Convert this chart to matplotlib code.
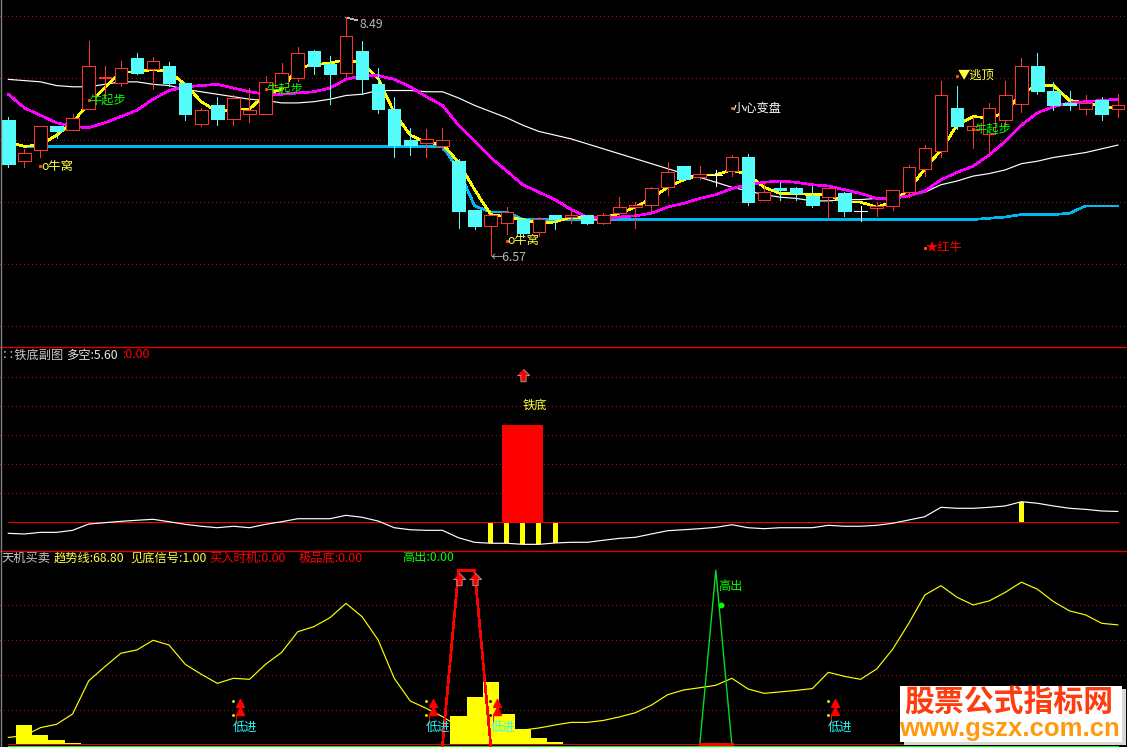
import matplotlib
matplotlib.use("Agg")
import matplotlib.pyplot as plt
from matplotlib.lines import Line2D
from matplotlib.patches import Rectangle

plt.rcParams['font.family'] = ['Noto Sans CJK SC', 'DejaVu Sans']
plt.rcParams['lines.antialiased'] = False
plt.rcParams['patch.antialiased'] = False

# bougies
opens = [7.66, 7.33, 7.42, 7.61, 7.58, 7.75, 8.00, 7.96, 8.16, 8.07,
         8.10, 7.96, 7.63, 7.78, 7.67, 7.71, 7.71, 7.93, 8.00, 8.22,
         8.11, 8.04, 8.22, 7.95, 7.75, 7.50, 7.48, 7.45, 7.33, 6.94,
         6.81, 6.83, 6.86, 6.76, 6.90, 6.88, 6.90, 6.83, 6.91, 6.96,
         6.98, 7.12, 7.29, 7.20, 7.22, 7.25, 7.36, 7.02, 7.11, 7.11,
         7.05, 7.04, 7.07, 6.93, 6.95, 6.97, 7.08, 7.27, 7.41, 7.76,
         7.58, 7.55, 7.66, 7.79, 8.10, 7.90, 7.80, 7.75, 7.82, 7.75]
highs = [7.69, 7.43, 7.61, 7.61, 7.71, 8.30, 8.10, 8.14, 8.20, 8.17,
         8.13, 7.96, 7.76, 7.85, 7.86, 7.92, 8.02, 8.12, 8.25, 8.23,
         8.18, 8.49, 8.30, 8.08, 7.85, 7.60, 7.59, 7.60, 7.35, 6.94,
         6.90, 6.96, 6.86, 6.88, 6.90, 6.94, 6.90, 6.91, 7.04, 7.00,
         7.12, 7.32, 7.29, 7.29, 7.26, 7.38, 7.39, 7.16, 7.16, 7.12,
         7.13, 7.11, 7.08, 6.97, 7.00, 7.10, 7.30, 7.46, 7.98, 7.94,
         7.69, 7.80, 7.98, 8.16, 8.20, 7.97, 7.90, 7.86, 7.85, 7.87]
lows = [7.28, 7.28, 7.36, 7.52, 7.58, 7.75, 7.85, 7.94, 8.03, 7.91,
        7.94, 7.66, 7.61, 7.62, 7.62, 7.65, 7.71, 7.90, 7.98, 8.03,
        7.79, 8.00, 7.87, 7.72, 7.36, 7.38, 7.36, 7.42, 6.79, 6.78,
        6.57, 6.74, 6.72, 6.73, 6.78, 6.83, 6.82, 6.82, 6.87, 6.79,
        6.92, 7.06, 7.19, 7.19, 7.13, 7.21, 6.98, 7.02, 7.02, 7.02,
        6.96, 6.87, 6.89, 6.85, 6.89, 6.94, 7.04, 7.21, 7.36, 7.59,
        7.44, 7.40, 7.61, 7.73, 7.87, 7.74, 7.74, 7.71, 7.66, 7.69]
closes = [7.31, 7.40, 7.61, 7.57, 7.68, 8.10, 8.01, 8.08, 8.04, 8.14,
          7.96, 7.71, 7.74, 7.67, 7.84, 7.74, 7.97, 8.04, 8.20, 8.10,
          8.03, 8.34, 7.99, 7.75, 7.46, 7.46, 7.51, 7.50, 6.93, 6.81,
          6.90, 6.92, 6.75, 6.86, 6.86, 6.90, 6.83, 6.90, 6.96, 6.98,
          7.11, 7.24, 7.19, 7.23, 7.22, 7.36, 7.00, 7.08, 7.10, 7.07,
          6.98, 7.11, 6.93, 6.93, 6.97, 7.10, 7.28, 7.44, 7.86, 7.61,
          7.61, 7.76, 7.86, 8.10, 7.90, 7.78, 7.78, 7.80, 7.71, 7.78]

# moyennes du graphique principal
ligne_blanche = [7.99, 7.98, 7.97, 7.94, 7.93, 7.93, 7.95, 7.97, 7.97, 7.95,
                 7.94, 7.91, 7.89, 7.87, 7.85, 7.83, 7.82, 7.80, 7.80, 7.81,
                 7.83, 7.86, 7.87, 7.90, 7.90, 7.90, 7.89, 7.89, 7.84, 7.78,
                 7.73, 7.68, 7.62, 7.57, 7.54, 7.51, 7.47, 7.43, 7.39, 7.35,
                 7.31, 7.27, 7.23, 7.20, 7.16, 7.12, 7.09, 7.06, 7.04, 7.03,
                 7.01, 7.01, 7.02, 7.02, 7.03, 7.04, 7.05, 7.08, 7.14, 7.17,
                 7.21, 7.23, 7.26, 7.31, 7.33, 7.36, 7.38, 7.40, 7.43, 7.46]
ligne_magenta = [7.87, 7.76, 7.70, 7.64, 7.61, 7.60, 7.64, 7.69, 7.74, 7.83,
                 7.90, 7.93, 7.94, 7.95, 7.92, 7.89, 7.87, 7.87, 7.88, 7.89,
                 7.92, 7.99, 8.02, 8.02, 7.99, 7.93, 7.85, 7.78, 7.62, 7.49,
                 7.36, 7.25, 7.14, 7.08, 7.02, 6.94, 6.88, 6.87, 6.88, 6.89,
                 6.91, 6.96, 6.99, 7.03, 7.06, 7.11, 7.14, 7.16, 7.17, 7.16,
                 7.14, 7.13, 7.10, 7.07, 7.03, 7.03, 7.05, 7.09, 7.18, 7.24,
                 7.29, 7.38, 7.49, 7.62, 7.72, 7.77, 7.80, 7.81, 7.82, 7.83]
ligne_jaune = [7.48, 7.45, 7.46, 7.54, 7.64, 7.80, 7.92, 8.05, 8.05, 8.07,
               8.05, 7.95, 7.81, 7.73, 7.75, 7.75, 7.87, 7.91, 8.08, 8.11,
               8.12, 8.15, 8.12, 8.00, 7.72, 7.54, 7.48, 7.47, 7.32, 7.10,
               6.90, 6.88, 6.86, 6.83, 6.84, 6.88, 6.87, 6.87, 6.91, 6.96,
               7.03, 7.12, 7.18, 7.22, 7.22, 7.26, 7.22, 7.12, 7.07, 7.07,
               7.06, 7.06, 7.00, 7.00, 6.96, 7.00, 7.10, 7.27, 7.42, 7.62,
               7.69, 7.68, 7.72, 7.88, 7.94, 7.94, 7.82, 7.80, 7.77, 7.76]
ligne_bleue = [7.48, 7.45, 7.45, 7.45, 7.45, 7.45, 7.45, 7.45, 7.45, 7.45,
               7.45, 7.45, 7.45, 7.45, 7.45, 7.45, 7.45, 7.45, 7.45, 7.45,
               7.45, 7.45, 7.45, 7.45, 7.45, 7.45, 7.45, 7.45, 7.26, 6.97,
               6.92, 6.92, 6.86, 6.86, 6.86, 6.86, 6.86, 6.86, 6.86, 6.86,
               6.86, 6.86, 6.86, 6.86, 6.86, 6.86, 6.86, 6.86, 6.86, 6.86,
               6.86, 6.86, 6.86, 6.86, 6.86, 6.86, 6.86, 6.86, 6.86, 6.86,
               6.86, 6.87, 6.88, 6.90, 6.90, 6.90, 6.91, 6.97, 6.97, 6.97]

# textes du graphique principal : (texte, bougie, prix, couleur)
etiquettes = [("o牛窝", 2, 7.29, "#ffff40"), ("牛起步", 5, 7.82, "#00ff00"),
              ("牛起步", 16, 7.91, "#00ff00"), ("牛起步", 60, 7.59, "#00ff00"),
              ("o牛窝", 31, 6.69, "#ffff40"), ("小心变盘", 45, 7.76, "#ffffff"),
              ("▼逃顶", 59, 8.02, "#ffff40"), ("★红牛", 57, 6.63, "#ff0000")]

# 铁底副图
duokong = [-5.7, -6.05, -5.2, -5.2, -4.15, -0.9, -0.2, 0.5, 1.05, 1.55,
           0.3, -1.05, -2.05, -2.8, -2.05, -2.8, -1.05, 0.3, 1.85, 1.85,
           1.85, 3.6, 2.6, 0.65, -2.8, -3.85, -4.15, -4.15, -8.0, -10.35,
           -10.85, -10.85, -11.4, -11.4, -10.7, -10.35, -10.35, -9.3, -8.3, -7.75,
           -6.05, -4.35, -3.85, -3.3, -2.6, -1.25, -2.8, -3.3, -2.8, -2.8,
           -2.8, -1.55, -2.05, -2.05, -1.55, -0.5, 1.2, 2.9, 7.75, 7.25,
           7.25, 7.75, 8.45, 10.65, 9.85, 8.45, 7.25, 6.7, 5.85, 5.6]
barres_jaunes_idx = [30, 31, 32, 33, 34, 63]
barre_rouge_idx = 32
barre_rouge_val = 50.3
fleche_tiedi = 76.2
texte_tiedi = 60.7

# 天机买卖
trend = [4.5, 5.5, 10.1, 12.0, 17.9, 36.8, 44.9, 52.6, 54.5, 60.0,
         57.3, 46.3, 40.6, 35.4, 38.3, 37.7, 46.3, 53.1, 64.9, 67.8,
         72.9, 81.1, 73.5, 60.2, 38.3, 25.3, 21.1, 16.4, 10.6, 6.8,
         4.9, 6.8, 8.7, 9.9, 11.6, 13.1, 13.1, 14.2, 16.2, 18.6,
         23.0, 28.9, 31.6, 32.9, 34.3, 38.3, 32.2, 29.7, 30.5, 31.4,
         32.4, 41.7, 39.4, 37.7, 43.6, 54.9, 69.7, 85.9, 91.2, 84.6,
         80.2, 82.5, 87.4, 93.2, 89.2, 82.1, 76.8, 74.5, 69.7, 68.8]
hist_idx = [1, 2, 3, 4, 28, 29, 30, 31, 32, 33, 34]
hist_val = [11.6, 5.9, 3.0, 1.3, 16.7, 27.6, 36.2, 17.9, 9.1, 4.2, 1.7]
rouge_idx = [27, 28, 29, 30]
rouge_val = [0, 100, 100, 0]
vert_idx = [43, 44, 45]
vert_val = [0, 100, 0]
fleches_idx = [28, 29]
fleches_val = [95, 95]
signal_x = [14.4, 26.4, 30.4, 51.4]
signal_haut = 24.0
signal_bas = 19.6
signal_points = [25.3, 17.3]
point_vert_x = 44.3
point_vert_val = 80

W, H = 1127, 747
PAS = 16.08
X0 = 8.3
FLECHE = [(0, 1), (1, 0), (0.42, 0), (0.42, -1), (-0.42, -1), (-0.42, 0), (-1, 0)]
ROUGE = "#ff3232"
CYAN = "#54fcfc"
GRILLE = "#a01010"
TAILLE = 8.8


def panneau(haut, bas, ymin, ymax, niveaux):
    ax = fig.add_axes([0, 1 - bas / H, 1, (bas - haut) / H])
    ax.set_xlim(-X0 / PAS, (W - X0) / PAS)
    ax.set_ylim(ymin, ymax)
    ax.axis("off")
    for niveau in niveaux:
        ax.axhline(niveau, color=GRILLE, lw=0.72, ls=(0, (1, 3)), zorder=1)
    return ax


def texte_px(x, y, s, couleur):
    fig.text(x / W, 1 - y / H, s, color=couleur, fontsize=TAILLE, va="center", ha="left")


def trait_px(x1, y1, x2, y2, couleur):
    fig.add_artist(Line2D([x1 / W, x2 / W], [1 - y1 / H, 1 - y2 / H], color=couleur, lw=1.0,
                          antialiased=True, zorder=5))


fig = plt.figure(figsize=(W / 100, H / 100), dpi=100, facecolor="black")
idx = list(range(len(closes)))

# graphique principal
ax1 = panneau(0, 346, 8.63 - 346 / 124, 8.63, [6, 6.5, 7, 7.5, 8, 8.5])
ax1.plot(idx, ligne_bleue, color="#00b8f0", lw=1.2, zorder=2)
ax1.plot(idx, ligne_blanche, color="white", lw=0.85, antialiased=True, zorder=2)
ax1.plot(idx, ligne_jaune, color="#ffff00", lw=1.2, zorder=2)
ax1.plot(idx, ligne_magenta, color="#ff00ff", lw=1.2, zorder=3)
for i in idx:
    o, h, l, c = opens[i], highs[i], lows[i], closes[i]
    if c > o:
        couleur, fond = ROUGE, "black"
    elif c < o:
        couleur, fond = CYAN, CYAN
    else:
        couleur, fond = "white", "white"
    ax1.vlines(i, l, h, color=couleur, lw=0.5, zorder=4)
    ax1.bar(i, abs(c - o), bottom=min(o, c), width=0.78, facecolor=fond, edgecolor=couleur,
            lw=0.5, zorder=5)
for s, i, prix, couleur in etiquettes:
    ax1.plot(i, prix, "s", color="#ff5000", ms=1.2, zorder=6)
    ax1.annotate(s, (i, prix), xytext=(0.6, 0), textcoords="offset points", color=couleur,
                 fontsize=TAILLE, va="center", ha="left", zorder=7)
ax1.annotate("8.49", (21, 8.49), xytext=(10, -5), textcoords="offset points", color="#b8b8b8",
             fontsize=TAILLE, va="center", ha="left",
             arrowprops=dict(arrowstyle="-", color="#b8b8b8", lw=0.5, shrinkA=0, shrinkB=0))
ax1.annotate("←6.57", (30, 6.57), xytext=(0, -1.5), textcoords="offset points", color="#b8b8b8",
             fontsize=TAILLE, va="center", ha="left")

# 铁底副图
ax2 = panneau(346, 550, -(550 - 522.3) / 1.933, (522.3 - 346) / 1.933, [15, 30, 45, 60, 75])
ax2.bar(barre_rouge_idx, barre_rouge_val, width=2.55, color="#ff0000", zorder=2)
ax2.bar(barres_jaunes_idx, [duokong[i] for i in barres_jaunes_idx], width=0.31, color="#ffff00", zorder=3)
ax2.plot(idx, [0] * len(idx), color="#ff0000", lw=0.7, zorder=3)
ax2.plot(idx, duokong, color="white", lw=0.85, antialiased=True, zorder=4)
ax2.plot(barre_rouge_idx, fleche_tiedi, marker=FLECHE, ms=9, mfc="#ff0000", mec="#a8a8a8", mew=0.6,
         ls="none", zorder=5)
ax2.text(barre_rouge_idx, texte_tiedi, "铁底", color="#ffff40", fontsize=TAILLE, va="center", ha="left")

# 天机买卖
ax3 = panneau(550, 747, -(747 - 745.3) / 1.75, (745.3 - 550) / 1.75, [20, 40, 60, 80])
ax3.plot(idx, trend, color="#ffff00", lw=0.85, antialiased=True, zorder=2)
ax3.bar(hist_idx, hist_val, width=1.0, color="#ffff00", zorder=3)
ax3.plot(idx, [0.7] * len(idx), color="#e00000", lw=0.72, antialiased=True, zorder=4)
ax3.plot(idx, [-0.3] * len(idx), color="#00ff00", lw=0.72, antialiased=True, zorder=4)
ax3.plot(rouge_idx, rouge_val, color="#ff0000", lw=1.2, zorder=5)
ax3.plot(vert_idx, vert_val, color="#00e020", lw=1.0, antialiased=True, zorder=5)
ax3.plot(vert_idx[0:1] + vert_idx[-1:], [0.7, 0.7], color="#ff0000", lw=1.0, zorder=5)
ax3.plot(fleches_idx, fleches_val, marker=FLECHE, ms=9, mfc="#ff0000", mec="#a8a8a8", mew=0.6,
         ls="none", zorder=6)
ax3.plot(point_vert_x, point_vert_val, "o", color="#00ff00", ms=3.2, zorder=6)
ax3.text(point_vert_x - 0.16, 90.5, "高出", color="#00ff00", fontsize=TAILLE, va="center", ha="left", zorder=6)
for x in signal_x:
    ax3.vlines(x - 0.24, 12.7, 17.8, color="#ff0000", lw=0.5, zorder=6)
    ax3.plot([x, x], [signal_bas, signal_haut], "^", color="#ff0000", ms=6.2, zorder=6)
    ax3.plot([x - 0.45] * 2, signal_points, "s", ms=0.9, color="black" if x == 30.4 else "#ffff00", zorder=6)
    ax3.text(x - 0.42, 10, "低进", color="#20ffff", fontsize=TAILLE, va="center", ha="left", zorder=7)

# cadres et titres
trait_px(0, 346.5, W, 346.5, "#e00000")
trait_px(0, 550.5, W, 550.5, "#e00000")
trait_px(0.5, 0, 0.5, H, "#808080")
texte_px(2, 355, "∷铁底副图", "#c8c8c8")
texte_px(66, 355, "多空:5.60", "#e8e8e8")
texte_px(122, 355, ":0.00", "#ff0000")
texte_px(1, 558, "天机买卖", "#c8c8c8")
texte_px(54, 558, "趋势线:68.80", "#ffff40")
texte_px(130, 558, "见底信号:1.00", "#ffff40")
texte_px(209, 558, "买入时机:0.00", "#ff0000")
texte_px(299, 558, "极品底:0.00", "#ff0000")
texte_px(402, 558, "高出:0.00", "#00ff00")

# filigrane
fig.add_artist(Rectangle((904 / W, 1 - 745 / H), 222 / W, 56 / H, transform=fig.transFigure,
                         facecolor="#d8d8d8", edgecolor="none", zorder=8))
fig.add_artist(Rectangle((900 / W, 1 - 742 / H), 222 / W, 56 / H, transform=fig.transFigure,
                         facecolor="white", edgecolor="none", zorder=9))
fig.text(1009 / W, 1 - 702 / H, "股票公式指标网", color="#ff3b10", fontsize=21.5, fontweight="bold",
         va="center", ha="center", zorder=10)
fig.text(1009 / W, 1 - 729 / H, "www.gszx.com.cn", color="#ff9a10", fontsize=18.5, fontweight="bold",
         va="center", ha="center", zorder=10, family=["Liberation Sans", "DejaVu Sans"])

fig.savefig("out.png", dpi=100, facecolor="black")
